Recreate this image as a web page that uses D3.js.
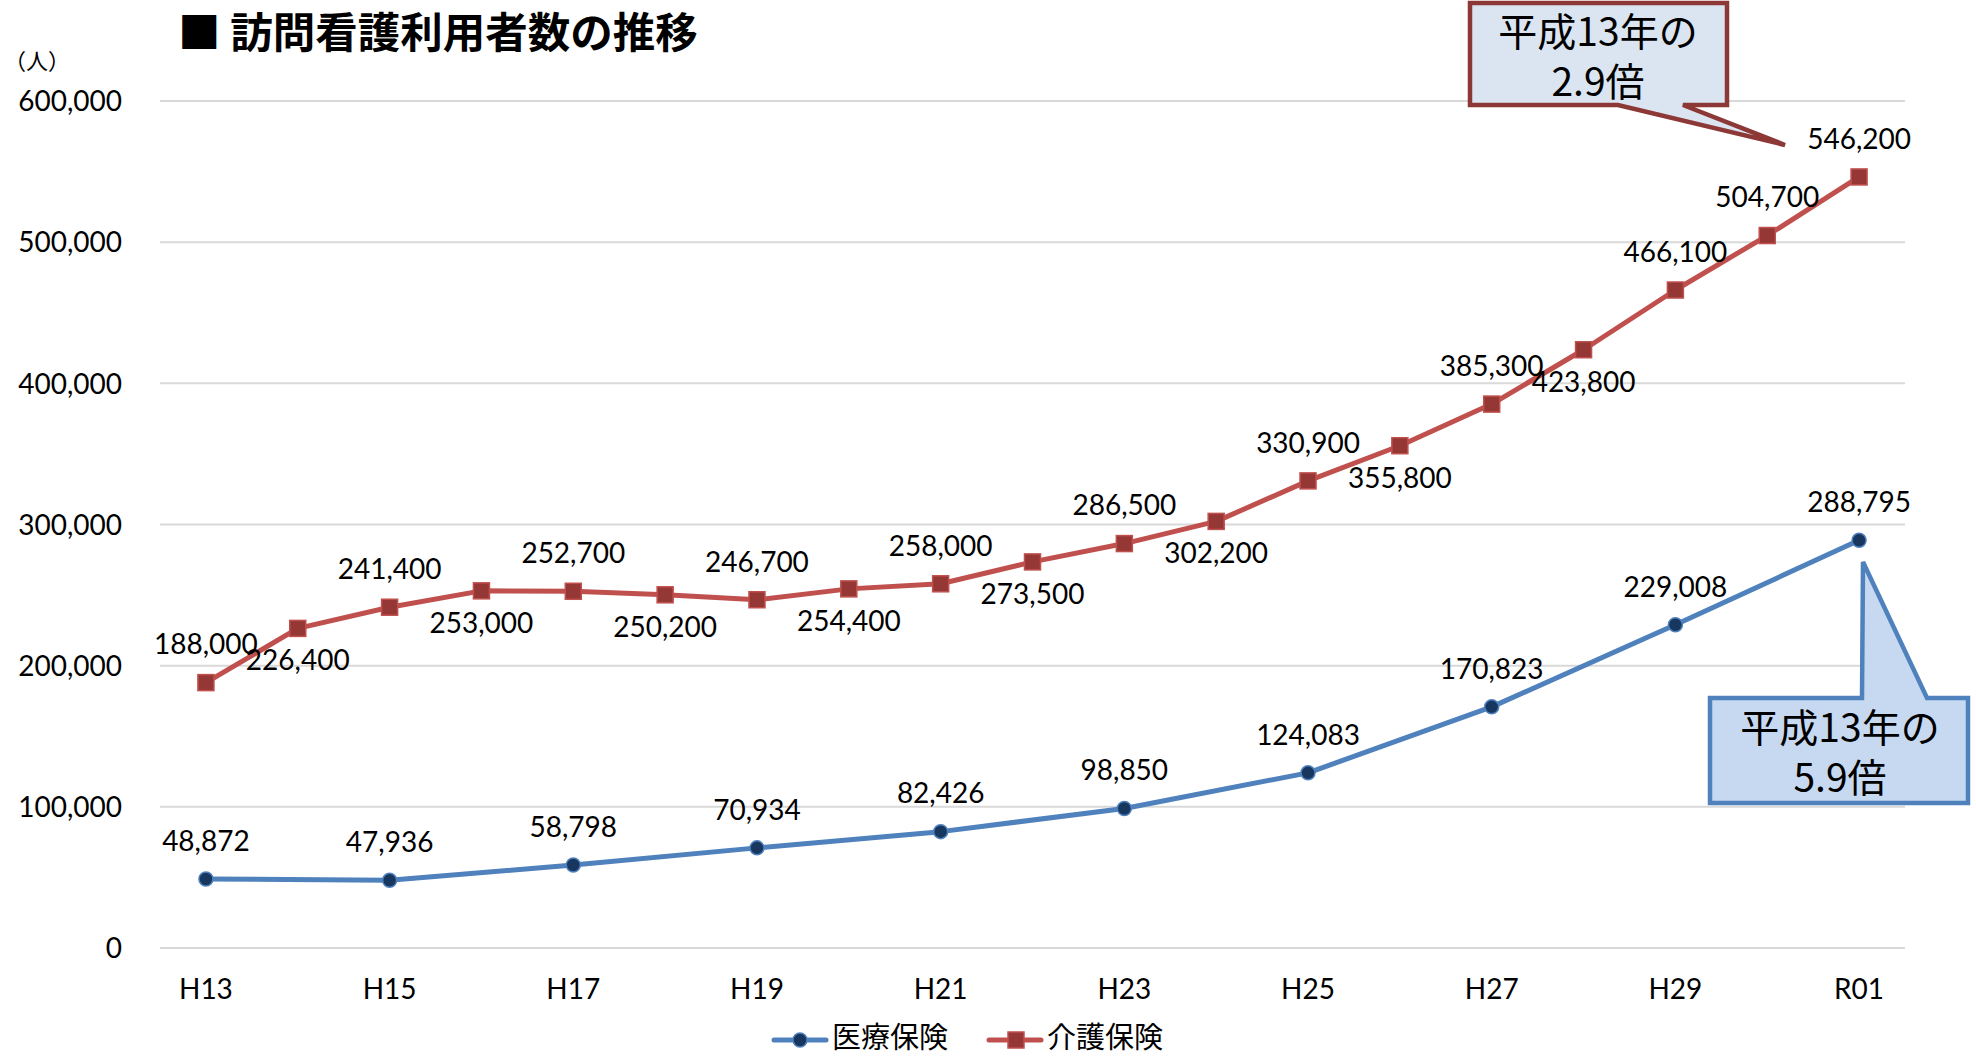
<!DOCTYPE html>
<html>
<head>
<meta charset="utf-8">
<script src="https://cdn.jsdelivr.net/npm/d3@7"></script>
<style>
  body { margin: 0; background: #fff; }
  text { font-family: Lato, "Noto Sans CJK JP", sans-serif; fill: #000; }
  .jp { font-family: "Noto Sans CJK JP", sans-serif; }
</style>
</head>
<body>
<svg id="plot"></svg>
<script>
// data
const years = ["H13","H14","H15","H16","H17","H18","H19","H20","H21","H22",
               "H23","H24","H25","H26","H27","H28","H29","H30","R01"];
const tickYears = ["H13","H15","H17","H19","H21","H23","H25","H27","H29","R01"];
const kaigoValues = [188000, 226400, 241400, 253000, 252700, 250200, 246700, 254400, 258000, 273500,
                     286500, 302200, 330900, 355800, 385300, 423800, 466100, 504700, 546200];
const iryoYears = ["H13","H15","H17","H19","H21","H23","H25","H27","H29","R01"];
const iryoValues = [48872, 47936, 58798, 70934, 82426, 98850, 124083, 170823, 229008, 288795];
const yTicks = [0, 100000, 200000, 300000, 400000, 500000, 600000];
// label placement for 介護保険 (t = above, b = below)
const kaigoLabelPos = ["t","b","t","b","t","b","t","b","t","b","t","b","t","b","t","b","t","t","t"];

// init setting
const svg = d3.select("#plot")
    .attr("width", 1976)
    .attr("height", 1058);
const plotLeft = 160, plotRight = 1905, plotTop = 101, plotBottom = 948;

const x = d3.scaleBand().domain(years).range([plotLeft, plotRight]);
const xc = d => x(d) + x.bandwidth() / 2;
const y = d3.scaleLinear().domain([0, 600000]).range([plotBottom, plotTop]);
const fmt = d3.format(",");

// gridlines
svg.append("g")
    .selectAll("line")
    .data(yTicks)
    .enter().append("line")
    .attr("x1", plotLeft).attr("x2", plotRight)
    .attr("y1", d => y(d)).attr("y2", d => y(d))
    .style("stroke", "#d9d9d9")
    .style("stroke-width", 2);

// y axis
const yAxis = svg.append("g")
    .attr("transform", "translate(122,0)")
    .call(d3.axisLeft(y).tickValues(yTicks).tickFormat(fmt).tickSize(0).tickPadding(0));
yAxis.select(".domain").remove();
yAxis.selectAll("text")
    .style("font-family", "Lato, sans-serif")
    .style("font-size", "28px")
    .style("fill", "#000")
    .attr("dy", "0.35em");

// x axis
const xAxis = svg.append("g")
    .attr("transform", `translate(0,${plotBottom})`)
    .call(d3.axisBottom(x).tickValues(tickYears).tickSize(0).tickPadding(0));
xAxis.select(".domain").remove();
xAxis.selectAll("text")
    .style("font-family", "Lato, sans-serif")
    .style("font-size", "28px")
    .style("fill", "#000")
    .attr("y", 41)
    .attr("dy", "0.35em");

// y unit
svg.append("text")
    .attr("class", "jp")
    .attr("x", 4).attr("y", 63)
    .attr("dominant-baseline", "middle")
    .style("font-size", "22px")
    .text("（人）");

// title
svg.append("text")
    .attr("class", "jp")
    .attr("x", 178).attr("y", 36)
    .attr("dominant-baseline", "middle")
    .style("font-size", "42.5px")
    .style("font-weight", "bold")
    .text("■ 訪問看護利用者数の推移");

// lines
const line = d3.line();
svg.append("path")
    .attr("d", line(years.map((d, i) => [xc(d), y(kaigoValues[i])])))
    .style("fill", "none")
    .style("stroke", "#c0504d")
    .style("stroke-width", 5)
    .style("stroke-linejoin", "round");

svg.append("path")
    .attr("d", line(iryoYears.map((d, i) => [xc(d), y(iryoValues[i])])))
    .style("fill", "none")
    .style("stroke", "#4f81bd")
    .style("stroke-width", 5)
    .style("stroke-linejoin", "round");

// markers
svg.selectAll(".kaigo-mark")
    .data(kaigoValues)
    .enter().append("rect")
    .attr("class", "kaigo-mark")
    .attr("x", (d, i) => xc(years[i]) - 8)
    .attr("y", d => y(d) - 8)
    .attr("width", 16).attr("height", 16)
    .style("fill", "#953735")
    .style("stroke", "#c0504d")
    .style("stroke-width", 1.5);

svg.selectAll(".iryo-mark")
    .data(iryoValues)
    .enter().append("circle")
    .attr("class", "iryo-mark")
    .attr("cx", (d, i) => xc(iryoYears[i]))
    .attr("cy", d => y(d))
    .attr("r", 7)
    .style("fill", "#17375e")
    .style("stroke", "#4f81bd")
    .style("stroke-width", 1.5);

// data labels
svg.selectAll(".kaigo-label")
    .data(kaigoValues)
    .enter().append("text")
    .attr("class", "kaigo-label")
    .attr("x", (d, i) => xc(years[i]))
    .attr("y", (d, i) => y(d) + (kaigoLabelPos[i] === "t" ? -38 : 32))
    .attr("dy", "0.35em")
    .attr("text-anchor", "middle")
    .style("font-size", "28px")
    .text(d => fmt(d));

svg.selectAll(".iryo-label")
    .data(iryoValues)
    .enter().append("text")
    .attr("class", "iryo-label")
    .attr("x", (d, i) => xc(iryoYears[i]))
    .attr("y", d => y(d) - 38)
    .attr("dy", "0.35em")
    .attr("text-anchor", "middle")
    .style("font-size", "28px")
    .text(d => fmt(d));

// callouts
svg.append("path")
    .attr("d", "M1470,3 H1727 V105 H1683 L1785,145 L1618,105 H1470 Z")
    .style("fill", "#dbe5f1")
    .style("stroke", "#8c3836")
    .style("stroke-width", 4.5)
    .style("stroke-linejoin", "miter");
svg.append("text").attr("class", "jp")
    .attr("x", 1598).attr("y", 35)
    .attr("text-anchor", "middle").attr("dominant-baseline", "middle")
    .style("font-size", "39px")
    .text("平成13年の");
svg.append("text").attr("class", "jp")
    .attr("x", 1598).attr("y", 85)
    .attr("text-anchor", "middle").attr("dominant-baseline", "middle")
    .style("font-size", "39px")
    .text("2.9倍");

svg.append("path")
    .attr("d", "M1710,698 H1862 L1863,562 L1927,698 H1968 V803 H1710 Z")
    .style("fill", "#c6d9f1")
    .style("stroke", "#4f81bd")
    .style("stroke-width", 4.5);
svg.append("text").attr("class", "jp")
    .attr("x", 1840).attr("y", 731)
    .attr("text-anchor", "middle").attr("dominant-baseline", "middle")
    .style("font-size", "39px")
    .text("平成13年の");
svg.append("text").attr("class", "jp")
    .attr("x", 1840).attr("y", 781)
    .attr("text-anchor", "middle").attr("dominant-baseline", "middle")
    .style("font-size", "39px")
    .text("5.9倍");

// legend
const legend = [
    { name: "医療保険", color: "#4f81bd", fill: "#17375e", shape: "circle", x: 774 },
    { name: "介護保険", color: "#c0504d", fill: "#953735", shape: "rect", x: 989 }
];
const lg = svg.selectAll(".legend")
    .data(legend)
    .enter().append("g")
    .attr("class", "legend")
    .attr("transform", d => `translate(${d.x},1040)`);
lg.append("line")
    .attr("x1", 0).attr("x2", 52)
    .style("stroke", d => d.color)
    .style("stroke-width", 5)
    .style("stroke-linecap", "round");
lg.each(function(d) {
    const g = d3.select(this);
    if (d.shape === "circle") {
        g.append("circle").attr("cx", 26).attr("r", 7)
            .style("fill", d.fill).style("stroke", d.color).style("stroke-width", 1.5);
    } else {
        g.append("rect").attr("x", 19).attr("y", -8).attr("width", 16).attr("height", 16)
            .style("fill", d.fill).style("stroke", d.color).style("stroke-width", 1.5);
    }
});
lg.append("text")
    .attr("class", "jp")
    .attr("x", 58)
    .attr("dominant-baseline", "middle")
    .style("font-size", "29px")
    .text(d => d.name);
</script>
</body>
</html>
